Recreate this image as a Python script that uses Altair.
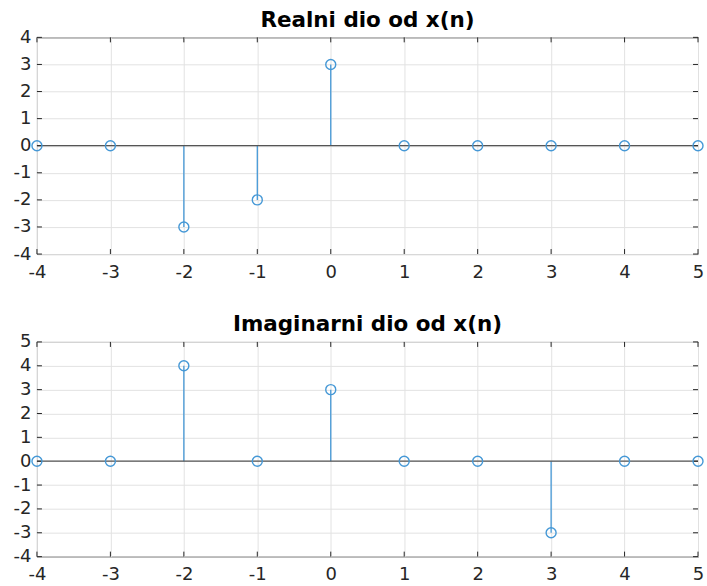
import altair as alt
import pandas as pd

n = [-4, -3, -2, -1, 0, 1, 2, 3, 4, 5]
real_part = [0, 0, -3, -2, 3, 0, 0, 0, 0, 0]
imag_part = [0, 0, 4, 0, 3, 0, 0, -3, 0, 0]
x_ticks = [-4, -3, -2, -1, 0, 1, 2, 3, 4, 5]
y_ticks_top = [-4, -3, -2, -1, 0, 1, 2, 3, 4]
y_ticks_bottom = [-4, -3, -2, -1, 0, 1, 2, 3, 4, 5]

W = 662
BLUE = "#4598d6"
AX = "#262626"
FONT = "DejaVu Sans"


def panel(values, title, ydom, yticks, H):
    df = pd.DataFrame({"n": n, "v": values, "zero": [0] * len(n)})
    xs = alt.Scale(domain=[-4, 5], nice=False, zero=False)
    ys = alt.Scale(domain=ydom, nice=False, zero=False)
    xaxis = alt.Axis(values=x_ticks, grid=True, ticks=False, domain=False,
                     labelExpr="datum.value + ''", labelPadding=9, title=None,
                     labelFlush=False)
    yaxis = alt.Axis(values=yticks, grid=True, ticks=False, domain=False,
                     labelExpr="datum.value + ''", labelPadding=6, title=None,
                     labelFlush=False)
    X = lambda f: alt.X(f, scale=xs, axis=xaxis)
    Y = lambda f: alt.Y(f, scale=ys, axis=yaxis)

    stems = alt.Chart(df).mark_rule(color=BLUE, strokeWidth=1.3).encode(
        x=X("n:Q"), y=Y("zero:Q"), y2="v:Q")
    baseline = alt.Chart(pd.DataFrame({"b": [0]})).mark_rule(
        color="#555555", strokeWidth=1.2).encode(
        y=Y("b:Q"), x=alt.value(0), x2=alt.value(W))
    pts = alt.Chart(df).mark_point(shape="circle", filled=False, size=100,
                                   color=BLUE, strokeWidth=1.4, opacity=1).encode(
        x=X("n:Q"), y=Y("v:Q"))

    xt = pd.DataFrame({"t": x_ticks})
    yt = pd.DataFrame({"t": yticks})
    tick_b = alt.Chart(xt).mark_rule(color=AX).encode(
        x=X("t:Q"), y=alt.value(H), y2=alt.value(H - 5))
    tick_t = alt.Chart(xt).mark_rule(color=AX).encode(
        x=X("t:Q"), y=alt.value(0), y2=alt.value(5))
    tick_l = alt.Chart(yt).mark_rule(color=AX).encode(
        y=Y("t:Q"), x=alt.value(0), x2=alt.value(5))
    tick_r = alt.Chart(yt).mark_rule(color=AX).encode(
        y=Y("t:Q"), x=alt.value(W), x2=alt.value(W - 5))

    return alt.layer(stems, baseline, tick_b, tick_t, tick_l, tick_r, pts).properties(
        width=W, height=H,
        title=alt.TitleParams(title, fontSize=21.5, fontWeight="bold", font=FONT,
                              color="#000000", offset=-3, anchor="middle",
                              frame="group"))


top = panel(real_part, "Realni dio od x(n)", [-4, 4], y_ticks_top, 217)
bottom = panel(imag_part, "Imaginarni dio od x(n)", [-4, 5], y_ticks_bottom, 215)

chart = alt.vconcat(top, bottom, spacing=88, bounds="flush").properties(
    padding={"left": 12, "top": 9, "right": 0, "bottom": 0},
    background="white",
).configure_view(stroke=AX, strokeWidth=1).configure_axis(
    labelFont=FONT, labelFontSize=18, labelColor=AX, gridColor="#e2e2e2",
    gridWidth=1)

chart.save("out.html", embed_options={"renderer": "svg", "actions": False})
